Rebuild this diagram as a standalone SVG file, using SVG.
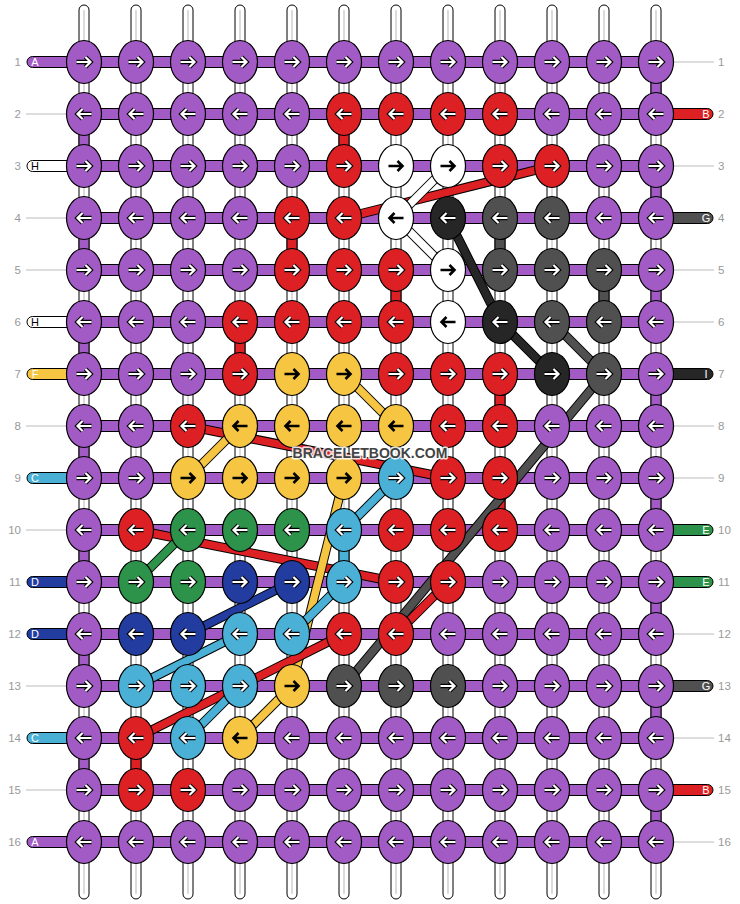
<svg xmlns="http://www.w3.org/2000/svg" xmlns:xlink="http://www.w3.org/1999/xlink" width="740" height="904" viewBox="0 0 740 904">
<style>
.vs{fill:#fff;stroke:#000;stroke-width:1}
.vc{stroke:#c4c4c4;stroke-width:1.2}
.hb{stroke:#000;stroke-width:1}
.gp{stroke:#000;stroke-width:1}
.P{fill:#A25BC5}.R{fill:#DC2024}.W{fill:#fff}.K{fill:#262626}.D{fill:#505050}.Y{fill:#F6C542}.C{fill:#4AB0D6}.G{fill:#2E934A}.N{fill:#233C9F}
.o{stroke:#000;stroke-width:9.5;fill:none}
.s{stroke-width:7.5;fill:none}
.sR{stroke:#DC2024}.sK{stroke:#262626}.sD{stroke:#505050}.sW{stroke:#fff}.sY{stroke:#F6C542}.sC{stroke:#4AB0D6}.sG{stroke:#2E934A}.sN{stroke:#233C9F}
.ak{fill:none;stroke:#000;stroke-width:4.4}
.aw{fill:none;stroke:#fff;stroke-width:2.2}
.ab{fill:none;stroke:#000;stroke-width:2.6}
.num{font-family:"Liberation Sans",Arial,sans-serif;font-size:11.5px;fill:#999}
.lt{font-family:"Liberation Sans",Arial,sans-serif;font-size:11px;text-anchor:middle}
.gl{stroke:#bbb;stroke-width:1}
.lb{stroke:#000;stroke-width:1}
</style>
<defs>
<ellipse id="e" rx="17.5" ry="21.5" stroke="#000" stroke-width="1.2"/>
<path id="pr" d="M-7.5,0H6M1.5,-5L6.5,0L1.5,5"/>
<path id="pl" d="M7.5,0H-6M-1.5,-5L-6.5,0L-1.5,5"/>
<g id="wr"><use href="#pr" class="ak"/><use href="#pr" class="aw"/></g>
<g id="wl"><use href="#pl" class="ak"/><use href="#pl" class="aw"/></g>
<g id="br"><use href="#pr" class="ab"/></g>
<g id="bl"><use href="#pl" class="ab"/></g>
</defs>
<rect width="740" height="904" fill="#fff"/>

<g id="warps">
<rect class="vs" x="79" y="5" width="10" height="894" rx="5"/><line class="vc" x1="84" y1="10" x2="84" y2="894"/>
<rect class="vs" x="131" y="5" width="10" height="894" rx="5"/><line class="vc" x1="136" y1="10" x2="136" y2="894"/>
<rect class="vs" x="183" y="5" width="10" height="894" rx="5"/><line class="vc" x1="188" y1="10" x2="188" y2="894"/>
<rect class="vs" x="235" y="5" width="10" height="894" rx="5"/><line class="vc" x1="240" y1="10" x2="240" y2="894"/>
<rect class="vs" x="287" y="5" width="10" height="894" rx="5"/><line class="vc" x1="292" y1="10" x2="292" y2="894"/>
<rect class="vs" x="339" y="5" width="10" height="894" rx="5"/><line class="vc" x1="344" y1="10" x2="344" y2="894"/>
<rect class="vs" x="391" y="5" width="10" height="894" rx="5"/><line class="vc" x1="396" y1="10" x2="396" y2="894"/>
<rect class="vs" x="443" y="5" width="10" height="894" rx="5"/><line class="vc" x1="448" y1="10" x2="448" y2="894"/>
<rect class="vs" x="495" y="5" width="10" height="894" rx="5"/><line class="vc" x1="500" y1="10" x2="500" y2="894"/>
<rect class="vs" x="547" y="5" width="10" height="894" rx="5"/><line class="vc" x1="552" y1="10" x2="552" y2="894"/>
<rect class="vs" x="599" y="5" width="10" height="894" rx="5"/><line class="vc" x1="604" y1="10" x2="604" y2="894"/>
<rect class="vs" x="651" y="5" width="10" height="894" rx="5"/><line class="vc" x1="656" y1="10" x2="656" y2="894"/>
</g>

<g id="sides">
<rect class="lb P" x="27" y="56.5" width="60" height="11" rx="5.5"/>
<rect class="lb W" x="27" y="160.5" width="60" height="11" rx="5.5"/>
<rect class="lb W" x="27" y="316.5" width="60" height="11" rx="5.5"/>
<rect class="lb Y" x="27" y="368.5" width="60" height="11" rx="5.5"/>
<rect class="lb C" x="27" y="472.5" width="60" height="11" rx="5.5"/>
<rect class="lb N" x="27" y="576.5" width="60" height="11" rx="5.5"/>
<rect class="lb N" x="27" y="628.5" width="60" height="11" rx="5.5"/>
<rect class="lb C" x="27" y="732.5" width="60" height="11" rx="5.5"/>
<rect class="lb P" x="27" y="836.5" width="60" height="11" rx="5.5"/>
<rect class="lb R" x="653" y="108.5" width="60" height="11" rx="5.5"/>
<rect class="lb D" x="653" y="212.5" width="60" height="11" rx="5.5"/>
<rect class="lb K" x="653" y="368.5" width="60" height="11" rx="5.5"/>
<rect class="lb G" x="653" y="524.5" width="60" height="11" rx="5.5"/>
<rect class="lb G" x="653" y="576.5" width="60" height="11" rx="5.5"/>
<rect class="lb D" x="653" y="680.5" width="60" height="11" rx="5.5"/>
<rect class="lb R" x="653" y="784.5" width="60" height="11" rx="5.5"/>
<line class="gl" x1="26" y1="114" x2="67" y2="114"/>
<line class="gl" x1="26" y1="218" x2="67" y2="218"/>
<line class="gl" x1="26" y1="270" x2="67" y2="270"/>
<line class="gl" x1="26" y1="426" x2="67" y2="426"/>
<line class="gl" x1="26" y1="530" x2="67" y2="530"/>
<line class="gl" x1="26" y1="686" x2="67" y2="686"/>
<line class="gl" x1="26" y1="790" x2="67" y2="790"/>
<line class="gl" x1="673" y1="62" x2="714" y2="62"/>
<line class="gl" x1="673" y1="166" x2="714" y2="166"/>
<line class="gl" x1="673" y1="270" x2="714" y2="270"/>
<line class="gl" x1="673" y1="322" x2="714" y2="322"/>
<line class="gl" x1="673" y1="426" x2="714" y2="426"/>
<line class="gl" x1="673" y1="478" x2="714" y2="478"/>
<line class="gl" x1="673" y1="634" x2="714" y2="634"/>
<line class="gl" x1="673" y1="738" x2="714" y2="738"/>
<line class="gl" x1="673" y1="842" x2="714" y2="842"/>
<text class="lt" x="35" y="66" fill="#fff">A</text>
<text class="lt" x="35" y="170" fill="#000">H</text>
<text class="lt" x="35" y="326" fill="#000">H</text>
<text class="lt" x="35" y="378" fill="#fff">F</text>
<text class="lt" x="35" y="482" fill="#fff">C</text>
<text class="lt" x="35" y="586" fill="#fff">D</text>
<text class="lt" x="35" y="638" fill="#fff">D</text>
<text class="lt" x="35" y="742" fill="#fff">C</text>
<text class="lt" x="35" y="846" fill="#fff">A</text>
<text class="lt" x="706" y="118" fill="#fff">B</text>
<text class="lt" x="706" y="222" fill="#fff">G</text>
<text class="lt" x="706" y="378" fill="#fff">I</text>
<text class="lt" x="706" y="534" fill="#fff">E</text>
<text class="lt" x="706" y="586" fill="#fff">E</text>
<text class="lt" x="706" y="690" fill="#fff">G</text>
<text class="lt" x="706" y="794" fill="#fff">B</text>
</g>

<g id="numbers">
<g class="num" text-anchor="end">
<text x="21" y="66">1</text><text x="21" y="118">2</text><text x="21" y="170">3</text><text x="21" y="222">4</text>
<text x="21" y="274">5</text><text x="21" y="326">6</text><text x="21" y="378">7</text><text x="21" y="430">8</text>
<text x="21" y="482">9</text><text x="21" y="534">10</text><text x="21" y="586">11</text><text x="21" y="638">12</text>
<text x="21" y="690">13</text><text x="21" y="742">14</text><text x="21" y="794">15</text><text x="21" y="846">16</text>
</g>
<g class="num" text-anchor="start">
<text x="718" y="66">1</text><text x="718" y="118">2</text><text x="718" y="170">3</text><text x="718" y="222">4</text>
<text x="718" y="274">5</text><text x="718" y="326">6</text><text x="718" y="378">7</text><text x="718" y="430">8</text>
<text x="718" y="482">9</text><text x="718" y="534">10</text><text x="718" y="586">11</text><text x="718" y="638">12</text>
<text x="718" y="690">13</text><text x="718" y="742">14</text><text x="718" y="794">15</text><text x="718" y="846">16</text>
</g>
</g>

<g id="rows">
<rect class="hb P" x="84" y="56.5" width="572" height="11"/>
<rect class="hb P" x="84" y="108.5" width="572" height="11"/>
<rect class="hb P" x="84" y="160.5" width="572" height="11"/>
<rect class="hb P" x="84" y="212.5" width="572" height="11"/>
<rect class="hb P" x="84" y="264.5" width="572" height="11"/>
<rect class="hb P" x="84" y="316.5" width="572" height="11"/>
<rect class="hb P" x="84" y="368.5" width="572" height="11"/>
<rect class="hb P" x="84" y="420.5" width="572" height="11"/>
<rect class="hb P" x="84" y="472.5" width="572" height="11"/>
<rect class="hb P" x="84" y="524.5" width="572" height="11"/>
<rect class="hb P" x="84" y="576.5" width="572" height="11"/>
<rect class="hb P" x="84" y="628.5" width="572" height="11"/>
<rect class="hb P" x="84" y="680.5" width="572" height="11"/>
<rect class="hb P" x="84" y="732.5" width="572" height="11"/>
<rect class="hb P" x="84" y="784.5" width="572" height="11"/>
<rect class="hb P" x="84" y="836.5" width="572" height="11"/>
</g>

<g id="connectors">
<g id="gaps">
<rect class="gp P" x="79" y="114" width="10" height="52"/>
<rect class="gp P" x="79" y="218" width="10" height="52"/>
<rect class="gp P" x="79" y="322" width="10" height="52"/>
<rect class="gp P" x="79" y="426" width="10" height="52"/>
<rect class="gp P" x="79" y="530" width="10" height="52"/>
<rect class="gp P" x="79" y="634" width="10" height="52"/>
<rect class="gp P" x="79" y="738" width="10" height="52"/>
<rect class="gp P" x="651" y="62" width="10" height="52"/>
<rect class="gp P" x="651" y="166" width="10" height="52"/>
<rect class="gp P" x="651" y="270" width="10" height="52"/>
<rect class="gp P" x="651" y="374" width="10" height="52"/>
<rect class="gp P" x="651" y="478" width="10" height="52"/>
<rect class="gp P" x="651" y="582" width="10" height="52"/>
<rect class="gp P" x="651" y="686" width="10" height="52"/>
<rect class="gp P" x="651" y="790" width="10" height="52"/>
<rect class="gp R" x="339" y="114" width="10" height="52"/>
<rect class="gp R" x="287" y="218" width="10" height="52"/>
<rect class="gp R" x="391" y="270" width="10" height="52"/>
<rect class="gp R" x="235" y="322" width="10" height="52"/>
<rect class="gp R" x="495" y="374" width="10" height="52"/>
<rect class="gp R" x="495" y="478" width="10" height="52"/>
<rect class="gp R" x="131" y="738" width="10" height="52"/>
<rect class="gp D" x="495" y="218" width="10" height="52"/>
<rect class="gp D" x="599" y="270" width="10" height="52"/>
<rect class="gp C" x="339" y="530" width="10" height="52"/>
</g>
<g id="diagonals">
<path class="o" d="M552,166L344,218"/><path class="s sR" d="M552,166L344,218"/>
<path class="o" d="M188,426L448,478"/><path class="s sR" d="M188,426L448,478"/>
<path class="o" d="M136,530L396,582"/><path class="s sR" d="M136,530L396,582"/>
<path class="o" d="M344,478L292,686"/><path class="s sY" d="M344,478L292,686"/>
<path class="o" d="M448,582L396,634"/><path class="s sR" d="M448,582L396,634"/>
<path class="o" d="M344,634L136,738"/><path class="s sR" d="M344,634L136,738"/>
<path class="o" d="M344,374L396,426"/><path class="s sY" d="M344,374L396,426"/>
<path class="o" d="M188,478L240,426"/><path class="s sY" d="M188,478L240,426"/>
<path class="o" d="M292,686L240,738"/><path class="s sY" d="M292,686L240,738"/>
<path class="o" d="M396,478L344,530"/><path class="s sC" d="M396,478L344,530"/>
<path class="o" d="M344,582L292,634"/><path class="s sC" d="M344,582L292,634"/>
<path class="o" d="M240,634L136,686"/><path class="s sC" d="M240,634L136,686"/>
<path class="o" d="M240,686L188,738"/><path class="s sC" d="M240,686L188,738"/>
<path class="o" d="M292,582L188,634"/><path class="s sN" d="M292,582L188,634"/>
<path class="o" d="M188,530L136,582"/><path class="s sG" d="M188,530L136,582"/>
<path class="o" d="M604,374L344,686"/><path class="s sD" d="M604,374L344,686"/>
<path class="o" d="M552,322L604,374"/><path class="s sD" d="M552,322L604,374"/>
<path class="o" d="M448,218L500,322"/><path class="s sK" d="M448,218L500,322"/>
<path class="o" d="M500,322L552,374"/><path class="s sK" d="M500,322L552,374"/>
<path class="o" d="M448,166L396,218"/><path class="s sW" d="M448,166L396,218"/>
<path class="o" d="M396,218L448,270"/><path class="s sW" d="M396,218L448,270"/>
</g>
</g>

<g id="nodes">
<g id="r1">
<g id="n1-1" transform="translate(84,62)"><use href="#e" class="P"/><use href="#wr"/></g>
<g id="n1-2" transform="translate(136,62)"><use href="#e" class="P"/><use href="#wr"/></g>
<g id="n1-3" transform="translate(188,62)"><use href="#e" class="P"/><use href="#wr"/></g>
<g id="n1-4" transform="translate(240,62)"><use href="#e" class="P"/><use href="#wr"/></g>
<g id="n1-5" transform="translate(292,62)"><use href="#e" class="P"/><use href="#wr"/></g>
<g id="n1-6" transform="translate(344,62)"><use href="#e" class="P"/><use href="#wr"/></g>
<g id="n1-7" transform="translate(396,62)"><use href="#e" class="P"/><use href="#wr"/></g>
<g id="n1-8" transform="translate(448,62)"><use href="#e" class="P"/><use href="#wr"/></g>
<g id="n1-9" transform="translate(500,62)"><use href="#e" class="P"/><use href="#wr"/></g>
<g id="n1-10" transform="translate(552,62)"><use href="#e" class="P"/><use href="#wr"/></g>
<g id="n1-11" transform="translate(604,62)"><use href="#e" class="P"/><use href="#wr"/></g>
<g id="n1-12" transform="translate(656,62)"><use href="#e" class="P"/><use href="#wr"/></g>
</g>
<g id="r2">
<g id="n2-1" transform="translate(84,114)"><use href="#e" class="P"/><use href="#wl"/></g>
<g id="n2-2" transform="translate(136,114)"><use href="#e" class="P"/><use href="#wl"/></g>
<g id="n2-3" transform="translate(188,114)"><use href="#e" class="P"/><use href="#wl"/></g>
<g id="n2-4" transform="translate(240,114)"><use href="#e" class="P"/><use href="#wl"/></g>
<g id="n2-5" transform="translate(292,114)"><use href="#e" class="P"/><use href="#wl"/></g>
<g id="n2-6" transform="translate(344,114)"><use href="#e" class="R"/><use href="#wl"/></g>
<g id="n2-7" transform="translate(396,114)"><use href="#e" class="R"/><use href="#wl"/></g>
<g id="n2-8" transform="translate(448,114)"><use href="#e" class="R"/><use href="#wl"/></g>
<g id="n2-9" transform="translate(500,114)"><use href="#e" class="R"/><use href="#wl"/></g>
<g id="n2-10" transform="translate(552,114)"><use href="#e" class="P"/><use href="#wl"/></g>
<g id="n2-11" transform="translate(604,114)"><use href="#e" class="P"/><use href="#wl"/></g>
<g id="n2-12" transform="translate(656,114)"><use href="#e" class="P"/><use href="#wl"/></g>
</g>
<g id="r3">
<g id="n3-1" transform="translate(84,166)"><use href="#e" class="P"/><use href="#wr"/></g>
<g id="n3-2" transform="translate(136,166)"><use href="#e" class="P"/><use href="#wr"/></g>
<g id="n3-3" transform="translate(188,166)"><use href="#e" class="P"/><use href="#wr"/></g>
<g id="n3-4" transform="translate(240,166)"><use href="#e" class="P"/><use href="#wr"/></g>
<g id="n3-5" transform="translate(292,166)"><use href="#e" class="P"/><use href="#wr"/></g>
<g id="n3-6" transform="translate(344,166)"><use href="#e" class="R"/><use href="#wr"/></g>
<g id="n3-7" transform="translate(396,166)"><use href="#e" class="W"/><use href="#br"/></g>
<g id="n3-8" transform="translate(448,166)"><use href="#e" class="W"/><use href="#br"/></g>
<g id="n3-9" transform="translate(500,166)"><use href="#e" class="R"/><use href="#wr"/></g>
<g id="n3-10" transform="translate(552,166)"><use href="#e" class="R"/><use href="#wr"/></g>
<g id="n3-11" transform="translate(604,166)"><use href="#e" class="P"/><use href="#wr"/></g>
<g id="n3-12" transform="translate(656,166)"><use href="#e" class="P"/><use href="#wr"/></g>
</g>
<g id="r4">
<g id="n4-1" transform="translate(84,218)"><use href="#e" class="P"/><use href="#wl"/></g>
<g id="n4-2" transform="translate(136,218)"><use href="#e" class="P"/><use href="#wl"/></g>
<g id="n4-3" transform="translate(188,218)"><use href="#e" class="P"/><use href="#wl"/></g>
<g id="n4-4" transform="translate(240,218)"><use href="#e" class="P"/><use href="#wl"/></g>
<g id="n4-5" transform="translate(292,218)"><use href="#e" class="R"/><use href="#wl"/></g>
<g id="n4-6" transform="translate(344,218)"><use href="#e" class="R"/><use href="#wl"/></g>
<g id="n4-7" transform="translate(396,218)"><use href="#e" class="W"/><use href="#bl"/></g>
<g id="n4-8" transform="translate(448,218)"><use href="#e" class="K"/><use href="#wl"/></g>
<g id="n4-9" transform="translate(500,218)"><use href="#e" class="D"/><use href="#wl"/></g>
<g id="n4-10" transform="translate(552,218)"><use href="#e" class="D"/><use href="#wl"/></g>
<g id="n4-11" transform="translate(604,218)"><use href="#e" class="P"/><use href="#wl"/></g>
<g id="n4-12" transform="translate(656,218)"><use href="#e" class="P"/><use href="#wl"/></g>
</g>
<g id="r5">
<g id="n5-1" transform="translate(84,270)"><use href="#e" class="P"/><use href="#wr"/></g>
<g id="n5-2" transform="translate(136,270)"><use href="#e" class="P"/><use href="#wr"/></g>
<g id="n5-3" transform="translate(188,270)"><use href="#e" class="P"/><use href="#wr"/></g>
<g id="n5-4" transform="translate(240,270)"><use href="#e" class="P"/><use href="#wr"/></g>
<g id="n5-5" transform="translate(292,270)"><use href="#e" class="R"/><use href="#wr"/></g>
<g id="n5-6" transform="translate(344,270)"><use href="#e" class="R"/><use href="#wr"/></g>
<g id="n5-7" transform="translate(396,270)"><use href="#e" class="R"/><use href="#wr"/></g>
<g id="n5-8" transform="translate(448,270)"><use href="#e" class="W"/><use href="#br"/></g>
<g id="n5-9" transform="translate(500,270)"><use href="#e" class="D"/><use href="#wr"/></g>
<g id="n5-10" transform="translate(552,270)"><use href="#e" class="D"/><use href="#wr"/></g>
<g id="n5-11" transform="translate(604,270)"><use href="#e" class="D"/><use href="#wr"/></g>
<g id="n5-12" transform="translate(656,270)"><use href="#e" class="P"/><use href="#wr"/></g>
</g>
<g id="r6">
<g id="n6-1" transform="translate(84,322)"><use href="#e" class="P"/><use href="#wl"/></g>
<g id="n6-2" transform="translate(136,322)"><use href="#e" class="P"/><use href="#wl"/></g>
<g id="n6-3" transform="translate(188,322)"><use href="#e" class="P"/><use href="#wl"/></g>
<g id="n6-4" transform="translate(240,322)"><use href="#e" class="R"/><use href="#wl"/></g>
<g id="n6-5" transform="translate(292,322)"><use href="#e" class="R"/><use href="#wl"/></g>
<g id="n6-6" transform="translate(344,322)"><use href="#e" class="R"/><use href="#wl"/></g>
<g id="n6-7" transform="translate(396,322)"><use href="#e" class="R"/><use href="#wl"/></g>
<g id="n6-8" transform="translate(448,322)"><use href="#e" class="W"/><use href="#bl"/></g>
<g id="n6-9" transform="translate(500,322)"><use href="#e" class="K"/><use href="#wl"/></g>
<g id="n6-10" transform="translate(552,322)"><use href="#e" class="D"/><use href="#wl"/></g>
<g id="n6-11" transform="translate(604,322)"><use href="#e" class="D"/><use href="#wl"/></g>
<g id="n6-12" transform="translate(656,322)"><use href="#e" class="P"/><use href="#wl"/></g>
</g>
<g id="r7">
<g id="n7-1" transform="translate(84,374)"><use href="#e" class="P"/><use href="#wr"/></g>
<g id="n7-2" transform="translate(136,374)"><use href="#e" class="P"/><use href="#wr"/></g>
<g id="n7-3" transform="translate(188,374)"><use href="#e" class="P"/><use href="#wr"/></g>
<g id="n7-4" transform="translate(240,374)"><use href="#e" class="R"/><use href="#wr"/></g>
<g id="n7-5" transform="translate(292,374)"><use href="#e" class="Y"/><use href="#br"/></g>
<g id="n7-6" transform="translate(344,374)"><use href="#e" class="Y"/><use href="#br"/></g>
<g id="n7-7" transform="translate(396,374)"><use href="#e" class="R"/><use href="#wr"/></g>
<g id="n7-8" transform="translate(448,374)"><use href="#e" class="R"/><use href="#wr"/></g>
<g id="n7-9" transform="translate(500,374)"><use href="#e" class="R"/><use href="#wr"/></g>
<g id="n7-10" transform="translate(552,374)"><use href="#e" class="K"/><use href="#wr"/></g>
<g id="n7-11" transform="translate(604,374)"><use href="#e" class="D"/><use href="#wr"/></g>
<g id="n7-12" transform="translate(656,374)"><use href="#e" class="P"/><use href="#wr"/></g>
</g>
<g id="r8">
<g id="n8-1" transform="translate(84,426)"><use href="#e" class="P"/><use href="#wl"/></g>
<g id="n8-2" transform="translate(136,426)"><use href="#e" class="P"/><use href="#wl"/></g>
<g id="n8-3" transform="translate(188,426)"><use href="#e" class="R"/><use href="#wl"/></g>
<g id="n8-4" transform="translate(240,426)"><use href="#e" class="Y"/><use href="#bl"/></g>
<g id="n8-5" transform="translate(292,426)"><use href="#e" class="Y"/><use href="#bl"/></g>
<g id="n8-6" transform="translate(344,426)"><use href="#e" class="Y"/><use href="#bl"/></g>
<g id="n8-7" transform="translate(396,426)"><use href="#e" class="Y"/><use href="#bl"/></g>
<g id="n8-8" transform="translate(448,426)"><use href="#e" class="R"/><use href="#wl"/></g>
<g id="n8-9" transform="translate(500,426)"><use href="#e" class="R"/><use href="#wl"/></g>
<g id="n8-10" transform="translate(552,426)"><use href="#e" class="P"/><use href="#wl"/></g>
<g id="n8-11" transform="translate(604,426)"><use href="#e" class="P"/><use href="#wl"/></g>
<g id="n8-12" transform="translate(656,426)"><use href="#e" class="P"/><use href="#wl"/></g>
</g>
<g id="r9">
<g id="n9-1" transform="translate(84,478)"><use href="#e" class="P"/><use href="#wr"/></g>
<g id="n9-2" transform="translate(136,478)"><use href="#e" class="P"/><use href="#wr"/></g>
<g id="n9-3" transform="translate(188,478)"><use href="#e" class="Y"/><use href="#br"/></g>
<g id="n9-4" transform="translate(240,478)"><use href="#e" class="Y"/><use href="#br"/></g>
<g id="n9-5" transform="translate(292,478)"><use href="#e" class="Y"/><use href="#br"/></g>
<g id="n9-6" transform="translate(344,478)"><use href="#e" class="Y"/><use href="#br"/></g>
<g id="n9-7" transform="translate(396,478)"><use href="#e" class="C"/><use href="#wr"/></g>
<g id="n9-8" transform="translate(448,478)"><use href="#e" class="R"/><use href="#wr"/></g>
<g id="n9-9" transform="translate(500,478)"><use href="#e" class="R"/><use href="#wr"/></g>
<g id="n9-10" transform="translate(552,478)"><use href="#e" class="P"/><use href="#wr"/></g>
<g id="n9-11" transform="translate(604,478)"><use href="#e" class="P"/><use href="#wr"/></g>
<g id="n9-12" transform="translate(656,478)"><use href="#e" class="P"/><use href="#wr"/></g>
</g>
<g id="r10">
<g id="n10-1" transform="translate(84,530)"><use href="#e" class="P"/><use href="#wl"/></g>
<g id="n10-2" transform="translate(136,530)"><use href="#e" class="R"/><use href="#wl"/></g>
<g id="n10-3" transform="translate(188,530)"><use href="#e" class="G"/><use href="#wl"/></g>
<g id="n10-4" transform="translate(240,530)"><use href="#e" class="G"/><use href="#wl"/></g>
<g id="n10-5" transform="translate(292,530)"><use href="#e" class="G"/><use href="#wl"/></g>
<g id="n10-6" transform="translate(344,530)"><use href="#e" class="C"/><use href="#wl"/></g>
<g id="n10-7" transform="translate(396,530)"><use href="#e" class="R"/><use href="#wl"/></g>
<g id="n10-8" transform="translate(448,530)"><use href="#e" class="R"/><use href="#wl"/></g>
<g id="n10-9" transform="translate(500,530)"><use href="#e" class="R"/><use href="#wl"/></g>
<g id="n10-10" transform="translate(552,530)"><use href="#e" class="P"/><use href="#wl"/></g>
<g id="n10-11" transform="translate(604,530)"><use href="#e" class="P"/><use href="#wl"/></g>
<g id="n10-12" transform="translate(656,530)"><use href="#e" class="P"/><use href="#wl"/></g>
</g>
<g id="r11">
<g id="n11-1" transform="translate(84,582)"><use href="#e" class="P"/><use href="#wr"/></g>
<g id="n11-2" transform="translate(136,582)"><use href="#e" class="G"/><use href="#wr"/></g>
<g id="n11-3" transform="translate(188,582)"><use href="#e" class="G"/><use href="#wr"/></g>
<g id="n11-4" transform="translate(240,582)"><use href="#e" class="N"/><use href="#wr"/></g>
<g id="n11-5" transform="translate(292,582)"><use href="#e" class="N"/><use href="#wr"/></g>
<g id="n11-6" transform="translate(344,582)"><use href="#e" class="C"/><use href="#wr"/></g>
<g id="n11-7" transform="translate(396,582)"><use href="#e" class="R"/><use href="#wr"/></g>
<g id="n11-8" transform="translate(448,582)"><use href="#e" class="R"/><use href="#wr"/></g>
<g id="n11-9" transform="translate(500,582)"><use href="#e" class="P"/><use href="#wr"/></g>
<g id="n11-10" transform="translate(552,582)"><use href="#e" class="P"/><use href="#wr"/></g>
<g id="n11-11" transform="translate(604,582)"><use href="#e" class="P"/><use href="#wr"/></g>
<g id="n11-12" transform="translate(656,582)"><use href="#e" class="P"/><use href="#wr"/></g>
</g>
<g id="r12">
<g id="n12-1" transform="translate(84,634)"><use href="#e" class="P"/><use href="#wl"/></g>
<g id="n12-2" transform="translate(136,634)"><use href="#e" class="N"/><use href="#wl"/></g>
<g id="n12-3" transform="translate(188,634)"><use href="#e" class="N"/><use href="#wl"/></g>
<g id="n12-4" transform="translate(240,634)"><use href="#e" class="C"/><use href="#wl"/></g>
<g id="n12-5" transform="translate(292,634)"><use href="#e" class="C"/><use href="#wl"/></g>
<g id="n12-6" transform="translate(344,634)"><use href="#e" class="R"/><use href="#wl"/></g>
<g id="n12-7" transform="translate(396,634)"><use href="#e" class="R"/><use href="#wl"/></g>
<g id="n12-8" transform="translate(448,634)"><use href="#e" class="P"/><use href="#wl"/></g>
<g id="n12-9" transform="translate(500,634)"><use href="#e" class="P"/><use href="#wl"/></g>
<g id="n12-10" transform="translate(552,634)"><use href="#e" class="P"/><use href="#wl"/></g>
<g id="n12-11" transform="translate(604,634)"><use href="#e" class="P"/><use href="#wl"/></g>
<g id="n12-12" transform="translate(656,634)"><use href="#e" class="P"/><use href="#wl"/></g>
</g>
<g id="r13">
<g id="n13-1" transform="translate(84,686)"><use href="#e" class="P"/><use href="#wr"/></g>
<g id="n13-2" transform="translate(136,686)"><use href="#e" class="C"/><use href="#wr"/></g>
<g id="n13-3" transform="translate(188,686)"><use href="#e" class="C"/><use href="#wr"/></g>
<g id="n13-4" transform="translate(240,686)"><use href="#e" class="C"/><use href="#wr"/></g>
<g id="n13-5" transform="translate(292,686)"><use href="#e" class="Y"/><use href="#br"/></g>
<g id="n13-6" transform="translate(344,686)"><use href="#e" class="D"/><use href="#wr"/></g>
<g id="n13-7" transform="translate(396,686)"><use href="#e" class="D"/><use href="#wr"/></g>
<g id="n13-8" transform="translate(448,686)"><use href="#e" class="D"/><use href="#wr"/></g>
<g id="n13-9" transform="translate(500,686)"><use href="#e" class="P"/><use href="#wr"/></g>
<g id="n13-10" transform="translate(552,686)"><use href="#e" class="P"/><use href="#wr"/></g>
<g id="n13-11" transform="translate(604,686)"><use href="#e" class="P"/><use href="#wr"/></g>
<g id="n13-12" transform="translate(656,686)"><use href="#e" class="P"/><use href="#wr"/></g>
</g>
<g id="r14">
<g id="n14-1" transform="translate(84,738)"><use href="#e" class="P"/><use href="#wl"/></g>
<g id="n14-2" transform="translate(136,738)"><use href="#e" class="R"/><use href="#wl"/></g>
<g id="n14-3" transform="translate(188,738)"><use href="#e" class="C"/><use href="#wl"/></g>
<g id="n14-4" transform="translate(240,738)"><use href="#e" class="Y"/><use href="#bl"/></g>
<g id="n14-5" transform="translate(292,738)"><use href="#e" class="P"/><use href="#wl"/></g>
<g id="n14-6" transform="translate(344,738)"><use href="#e" class="P"/><use href="#wl"/></g>
<g id="n14-7" transform="translate(396,738)"><use href="#e" class="P"/><use href="#wl"/></g>
<g id="n14-8" transform="translate(448,738)"><use href="#e" class="P"/><use href="#wl"/></g>
<g id="n14-9" transform="translate(500,738)"><use href="#e" class="P"/><use href="#wl"/></g>
<g id="n14-10" transform="translate(552,738)"><use href="#e" class="P"/><use href="#wl"/></g>
<g id="n14-11" transform="translate(604,738)"><use href="#e" class="P"/><use href="#wl"/></g>
<g id="n14-12" transform="translate(656,738)"><use href="#e" class="P"/><use href="#wl"/></g>
</g>
<g id="r15">
<g id="n15-1" transform="translate(84,790)"><use href="#e" class="P"/><use href="#wr"/></g>
<g id="n15-2" transform="translate(136,790)"><use href="#e" class="R"/><use href="#wr"/></g>
<g id="n15-3" transform="translate(188,790)"><use href="#e" class="R"/><use href="#wr"/></g>
<g id="n15-4" transform="translate(240,790)"><use href="#e" class="P"/><use href="#wr"/></g>
<g id="n15-5" transform="translate(292,790)"><use href="#e" class="P"/><use href="#wr"/></g>
<g id="n15-6" transform="translate(344,790)"><use href="#e" class="P"/><use href="#wr"/></g>
<g id="n15-7" transform="translate(396,790)"><use href="#e" class="P"/><use href="#wr"/></g>
<g id="n15-8" transform="translate(448,790)"><use href="#e" class="P"/><use href="#wr"/></g>
<g id="n15-9" transform="translate(500,790)"><use href="#e" class="P"/><use href="#wr"/></g>
<g id="n15-10" transform="translate(552,790)"><use href="#e" class="P"/><use href="#wr"/></g>
<g id="n15-11" transform="translate(604,790)"><use href="#e" class="P"/><use href="#wr"/></g>
<g id="n15-12" transform="translate(656,790)"><use href="#e" class="P"/><use href="#wr"/></g>
</g>
<g id="r16">
<g id="n16-1" transform="translate(84,842)"><use href="#e" class="P"/><use href="#wl"/></g>
<g id="n16-2" transform="translate(136,842)"><use href="#e" class="P"/><use href="#wl"/></g>
<g id="n16-3" transform="translate(188,842)"><use href="#e" class="P"/><use href="#wl"/></g>
<g id="n16-4" transform="translate(240,842)"><use href="#e" class="P"/><use href="#wl"/></g>
<g id="n16-5" transform="translate(292,842)"><use href="#e" class="P"/><use href="#wl"/></g>
<g id="n16-6" transform="translate(344,842)"><use href="#e" class="P"/><use href="#wl"/></g>
<g id="n16-7" transform="translate(396,842)"><use href="#e" class="P"/><use href="#wl"/></g>
<g id="n16-8" transform="translate(448,842)"><use href="#e" class="P"/><use href="#wl"/></g>
<g id="n16-9" transform="translate(500,842)"><use href="#e" class="P"/><use href="#wl"/></g>
<g id="n16-10" transform="translate(552,842)"><use href="#e" class="P"/><use href="#wl"/></g>
<g id="n16-11" transform="translate(604,842)"><use href="#e" class="P"/><use href="#wl"/></g>
<g id="n16-12" transform="translate(656,842)"><use href="#e" class="P"/><use href="#wl"/></g>
</g>
</g>

<text id="watermark" x="370" y="457.5" text-anchor="middle" font-family="Liberation Sans, Arial, sans-serif" font-weight="bold" font-size="14" fill="#444" stroke="#fff" stroke-opacity="0.85" stroke-width="3" stroke-linejoin="round" paint-order="stroke">BRACELETBOOK.COM</text>
</svg>
